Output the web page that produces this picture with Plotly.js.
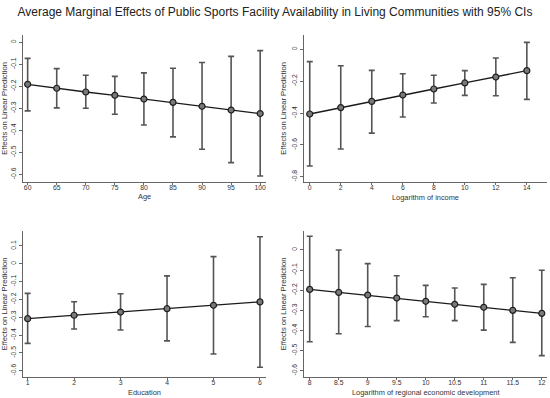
<!DOCTYPE html>
<html>
<head>
<meta charset="utf-8">
<script src="https://cdn.plot.ly/plotly-3.0.1.min.js"></script>
<style>html,body{margin:0;padding:0;background:#fff;}#chart{width:550px;height:398px;}</style>
</head>
<body>
<div id="chart"></div>
<script>
// Panel 1: Age
const ageX = [60, 65, 70, 75, 80, 85, 90, 95, 100];
const ageMean = [-0.191, -0.209, -0.226, -0.241, -0.258, -0.273, -0.291, -0.308, -0.324];
const ageUpper = [-0.073, -0.120, -0.150, -0.155, -0.139, -0.118, -0.092, -0.064, -0.038];
const ageLower = [-0.312, -0.298, -0.300, -0.327, -0.376, -0.430, -0.486, -0.547, -0.608];

// Panel 2: Logarithm of income
const incX = [0, 2, 4, 6, 8, 10, 12, 14];
const incMean = [-0.406, -0.366, -0.327, -0.287, -0.249, -0.211, -0.174, -0.134];
const incUpper = [-0.077, -0.103, -0.132, -0.153, -0.163, -0.134, -0.054, 0.044];
const incLower = [-0.733, -0.626, -0.526, -0.425, -0.337, -0.289, -0.291, -0.314];

// Panel 3: Education
const eduX = [1, 2, 3, 4, 5, 6];
const eduMean = [-0.308, -0.289, -0.271, -0.252, -0.233, -0.214];
const eduUpper = [-0.166, -0.213, -0.168, -0.068, 0.040, 0.152];
const eduLower = [-0.447, -0.366, -0.372, -0.433, -0.506, -0.581];

// Panel 4: Logarithm of regional economic development
const regX = [8, 8.5, 9, 9.5, 10, 10.5, 11, 11.5, 12];
const regMean = [-0.196, -0.211, -0.224, -0.239, -0.255, -0.270, -0.285, -0.300, -0.315];
const regUpper = [0.068, 0.000, -0.068, -0.128, -0.176, -0.189, -0.171, -0.138, -0.101];
const regLower = [-0.456, -0.416, -0.380, -0.351, -0.332, -0.351, -0.398, -0.459, -0.525];

const yTitle = 'Effects on Linear Prediction';
const xTitles = ['Age', 'Logarithm of income', 'Education', 'Logarithm of regional economic development'];
const chartTitle = 'Average Marginal Effects of Public Sports Facility Availability in Living Communities with 95% CIs';

const ageTicks = [0, -0.1, -0.2, -0.3, -0.4, -0.5, -0.6];
const incTicks = [0, -0.2, -0.4, -0.6, -0.8];
const eduTicks = [0.1, 0, -0.1, -0.2, -0.3, -0.4, -0.5, -0.6];
const regTicks = [0, -0.1, -0.2, -0.3, -0.4, -0.5, -0.6];

function mk(x, m, u, l, xa, ya) {
  return {
    x: x, y: m, xaxis: xa, yaxis: ya, type: 'scatter', mode: 'lines+markers',
    line: {color: '#1a1a1a', width: 1.3},
    marker: {symbol: 'circle', size: 6, color: '#7a7a7a', line: {color: '#1e1e1e', width: 1.2}},
    error_y: {type: 'data', symmetric: false,
      array: u.map((v, i) => v - m[i]),
      arrayminus: l.map((v, i) => m[i] - v),
      color: '#555555', thickness: 1.6, width: 3},
    showlegend: false, hoverinfo: 'x+y'
  };
}

const data = [
  mk(ageX, ageMean, ageUpper, ageLower, 'x', 'y'),
  mk(incX, incMean, incUpper, incLower, 'x2', 'y2'),
  mk(eduX, eduMean, eduUpper, eduLower, 'x3', 'y3'),
  mk(regX, regMean, regUpper, regLower, 'x4', 'y4')
];

const fam = 'Liberation Sans, Arial, Helvetica, sans-serif';
function xax(dom, range, dtick, anchor) {
  return {domain: dom, range: range, anchor: anchor, dtick: dtick, tick0: 0,
    showgrid: false, zeroline: false, showline: true, linecolor: '#666', linewidth: 1,
    ticks: 'outside', ticklen: 2, tickcolor: '#666', tickwidth: 1, ticklabelstandoff: -3,
    tickfont: {family: fam, size: 6.8, color: '#333'}};
}
function yax(dom, range, tickvals, anchor) {
  return {domain: dom, range: range, anchor: anchor, tickvals: tickvals,
    ticktext: tickvals.map(v => v === 0 ? '0' : String(v)),
    showgrid: false, zeroline: false, showline: true, linecolor: '#666', linewidth: 1,
    ticks: 'outside', ticklen: 3, tickcolor: '#666', tickwidth: 1, tickangle: -90,
    tickfont: {family: fam, size: 6.8, color: '#333'},
    title: {text: yTitle, font: {family: fam, size: 7.6, color: '#333'}, standoff: 3}};
}

const topDom = [1 - 182 / 398, 1 - 35 / 398];
const botDom = [1 - 377 / 398, 1 - 231 / 398];
const leftDom = [23 / 550, 266 / 550];
const rightDom = [304 / 550, 547 / 550];

function xTitleAnn(text, dom, ypx) {
  return {text: text, xref: 'paper', yref: 'paper', x: (dom[0] + dom[1]) / 2, y: 1 - ypx / 398,
    xanchor: 'center', yanchor: 'middle', showarrow: false,
    font: {family: fam, size: 7.4, color: '#333'}};
}

const layout = {
  width: 550, height: 398,
  margin: {l: 0, r: 0, t: 0, b: 0},
  paper_bgcolor: '#fff', plot_bgcolor: '#fff',
  font: {family: fam, color: '#222'},
  title: {text: chartTitle, font: {family: fam, size: 12, color: '#222'}, x: 0.5, xanchor: 'center', y: 1 - 12 / 398, yanchor: 'middle'},
  xaxis: xax(leftDom, [59.2, 101], 5, 'y'),
  yaxis: yax(topDom, [-0.635, 0.033], ageTicks, 'x'),
  xaxis2: xax(rightDom, [-0.37, 15.3], 2, 'y2'),
  yaxis2: yax(topDom, [-0.833, 0.09], incTicks, 'x2'),
  xaxis3: xax(leftDom, [0.9, 6.13], 1, 'y3'),
  yaxis3: yax(botDom, [-0.6355, 0.184], eduTicks, 'x3'),
  xaxis4: xax(rightDom, [7.902, 12.09], 0.5, 'y4'),
  yaxis4: yax(botDom, [-0.631, 0.094], regTicks, 'x4'),
  annotations: [
    xTitleAnn(xTitles[0], leftDom, 196.5),
    xTitleAnn(xTitles[1], rightDom, 197),
    xTitleAnn(xTitles[2], leftDom, 392),
    xTitleAnn(xTitles[3], rightDom, 392)
  ]
};

Plotly.newPlot('chart', data, layout, {staticPlot: true, displayModeBar: false});
</script>
</body>
</html>
